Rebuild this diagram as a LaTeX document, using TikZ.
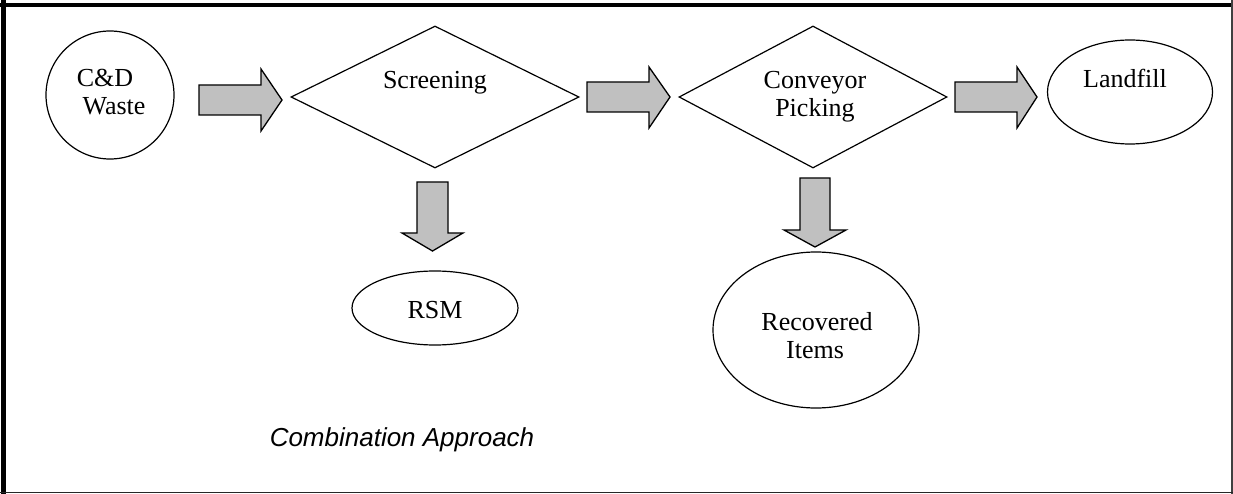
\documentclass[tikz,border=0pt]{standalone}
\usepackage{fontspec}
\setmainfont{Liberation Serif}
\setsansfont{Liberation Sans}
\usetikzlibrary{shapes.geometric}
\definecolor{arrowgray}{HTML}{C0C0C0}
\begin{document}
\begin{tikzpicture}[x=1pt,y=-1pt,
  shapeline/.style={draw=black, line width=1.2pt},
  blockarrow/.style={draw=black, fill=arrowgray, line width=1.3pt, line join=miter},
  lbl/.style={anchor=base, inner sep=0pt, font=\fontsize{26}{28}\selectfont},
  caption/.style={anchor=base, inner sep=0pt, font=\sffamily\itshape\fontsize{26}{28}\selectfont}]
\useasboundingbox (0,0) rectangle (1233,494);
\fill[white] (0,0) rectangle (1233,494);
% frame
\draw[line width=4.7pt] (0,5) -- (1233,5);
\draw[line width=5pt] (3.5,0) -- (3.5,494);
\draw[line width=2pt, black!75] (1231.5,0) -- (1231.5,494);
\draw[line width=1.5pt, black!85] (0,492.5) -- (1233,492.5);
% shapes
\node[shapeline, circle, minimum size=128pt, inner sep=0pt] (waste) at (110,95) {};
\node[shapeline, diamond, minimum width=288pt, minimum height=142pt, inner sep=0pt] (screen) at (435,97) {};
\node[shapeline, diamond, minimum width=268pt, minimum height=142pt, inner sep=0pt] (conv) at (813,97) {};
\node[shapeline, ellipse, minimum width=165pt, minimum height=104pt, inner sep=0pt] (landfill) at (1130,92) {};
\node[shapeline, ellipse, minimum width=166pt, minimum height=74pt, inner sep=0pt] (rsm) at (435,308) {};
\node[shapeline, ellipse, minimum width=206pt, minimum height=156pt, inner sep=0pt] (recov) at (816,330) {};
% block arrows
\draw[blockarrow] (199,85) -- (261,85) -- (261,69) -- (282,100) -- (261,131) -- (261,115) -- (199,115) -- cycle;
\draw[blockarrow] (587,82) -- (649,82) -- (649,67) -- (670,97) -- (649,128) -- (649,112) -- (587,112) -- cycle;
\draw[blockarrow] (955,82) -- (1017,82) -- (1017,67) -- (1037,97) -- (1017,128) -- (1017,112) -- (955,112) -- cycle;
\draw[blockarrow] (417,182) -- (448,182) -- (448,233) -- (463,233) -- (432.5,251) -- (402,233) -- (417,233) -- cycle;
\draw[blockarrow] (800,178) -- (830,178) -- (830,230) -- (846,230) -- (815,247) -- (784,230) -- (800,230) -- cycle;
% labels
\node[lbl] (t1) at (105,87) {C\&D};
\node[lbl] (t2) at (114,115) {Waste};
\node[lbl] (t3) at (435,89) {Screening};
\node[lbl] (t4) at (815,89) {Conveyor};
\node[lbl] (t5) at (815,117) {Picking};
\node[lbl] (t6) at (1125,88) {Landfill};
\node[lbl] (t7) at (435,318) {RSM};
\node[lbl] (t8) at (817,330) {Recovered};
\node[lbl] (t9) at (815,358) {Items};
\node[caption] (cap) at (402,446) {Combination Approach};
\end{tikzpicture}
\end{document}
